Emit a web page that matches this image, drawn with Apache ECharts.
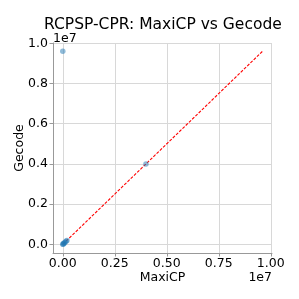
<!DOCTYPE html>
<html><head><meta charset="utf-8">
<script src="https://cdn.jsdelivr.net/npm/echarts@6/dist/echarts.min.js"></script>
<style>html,body{margin:0;padding:0;background:#fff}#c{width:299px;height:299px}</style>
</head><body><div id="c"></div>
<script>
const maxicp = [0, 20000, 40000, 70000, 110000, 160000, 200000, 4000000, 0];
const gecode = [0, 10000, 50000, 60000, 100000, 150000, 190000, 4000000, 9600000];
const xTicks = [0, 2500000, 5000000, 7500000, 10000000];
const yTicks = [0, 2000000, 4000000, 6000000, 8000000, 10000000];
const diag = [0, 9600000];

const pts = maxicp.map((v, i) => [v, gecode[i]]);
const font = 'DejaVu Sans';
const chart = echarts.init(document.getElementById('c'), null, {renderer: 'canvas'});
chart.setOption({
  animation: false,
  title: {text: 'RCPSP-CPR: MaxiCP vs Gecode', left: 39, top: 12,
    textStyle: {fontFamily: font, fontSize: 15.5, fontWeight: 'normal', color: '#000'}},
  grid: {left: 53, right: 27, top: 43, bottom: 46},
  graphic: [
    {type: 'text', left: 53, top: 32, style: {text: '1e7', font: '12.5px "DejaVu Sans"', fill: '#000'}},
    {type: 'text', right: 27, top: 271, style: {text: '1e7', font: '12.5px "DejaVu Sans"', fill: '#000'}}
  ],
  xAxis: {type: 'value', min: -470000, max: 10060000,
    name: 'MaxiCP', nameLocation: 'middle', nameGap: 18, nameMoveOverlap: false,
    nameTextStyle: {fontFamily: font, fontSize: 12.5, color: '#000'},
    axisLine: {onZero: false, lineStyle: {color: '#999'}},
    axisTick: {show: true, length: 3.5, customValues: xTicks, lineStyle: {color: '#999'}},
    axisLabel: {customValues: xTicks, fontFamily: font, fontSize: 12.5, color: '#000', margin: 4,
      formatter: v => (v / 1e7).toFixed(2)},
    splitLine: {show: true, lineStyle: {color: '#d8d8d8', width: 1}}},
  yAxis: {type: 'value', min: -430000, max: 10015000,
    name: 'Gecode', nameLocation: 'middle', nameGap: 27, nameMoveOverlap: false,
    nameTextStyle: {fontFamily: font, fontSize: 12.5, color: '#000'},
    axisLine: {show: true, onZero: false, lineStyle: {color: '#999'}},
    axisTick: {show: true, length: 3.5, customValues: yTicks, lineStyle: {color: '#999'}},
    axisLabel: {customValues: yTicks, fontFamily: font, fontSize: 12.5, color: '#000', margin: 5,
      formatter: v => (v / 1e7).toFixed(1)},
    splitLine: {show: true, lineStyle: {color: '#d8d8d8', width: 1}}},
  series: [
    {type: 'line', data: [[diag[0], diag[0]], [diag[1], diag[1]]], symbol: 'none',
      lineStyle: {color: '#ff0000', width: 1.1, type: [3, 1.5]}, z: 3},
    {type: 'scatter', data: pts, symbolSize: 5.5,
      itemStyle: {color: '#1f77b4', opacity: 0.5}, z: 4}
  ]
});
</script></body></html>
